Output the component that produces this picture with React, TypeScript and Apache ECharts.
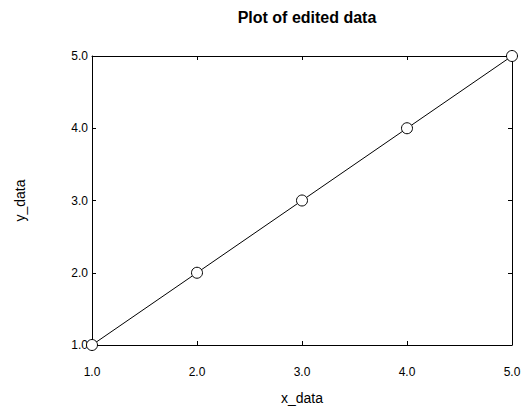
import React, { useEffect, useRef } from "react";
import * as echarts from "echarts";

const xValues = [1.0, 2.0, 3.0, 4.0, 5.0];
const yValues = [1.0, 2.0, 3.0, 4.0, 5.0];
const titleText = "Plot of edited data";
const xName = "x_data";
const yName = "y_data";

export default function App() {
  const ref = useRef<HTMLDivElement>(null);
  useEffect(() => {
    if (!ref.current) return;
    const chart = echarts.init(ref.current, null, { renderer: "svg" });
    const font = "Liberation Sans, Arial, sans-serif";
    const lineStyle = { color: "#000", width: 1 };
    chart.setOption({
      animation: false,
      backgroundColor: "#fff",
      title: {
        text: titleText,
        left: 302,
        top: 4,
        textAlign: "center",
        textStyle: { fontFamily: font, fontSize: 16, fontWeight: "bold", color: "#000" },
      },
      grid: { left: 92, right: 10, top: 56, bottom: 61, containLabel: false, outerBoundsMode: "none" },
      xAxis: [
        {
          type: "value",
          position: "bottom",
          min: 1,
          max: 5,
          interval: 1,
          name: xName,
          nameLocation: "middle",
          nameGap: 46,
          nameTextStyle: { fontFamily: font, fontSize: 14, color: "#000" },
          axisLine: { show: true, lineStyle },
          axisTick: { show: true, inside: true, length: 4, lineStyle },
          axisLabel: {
            fontFamily: font,
            fontSize: 12,
            color: "#000",
            margin: 21,
            formatter: (v: number) => v.toFixed(1),
          },
          splitLine: { show: false },
        },
        {
          type: "value",
          position: "top",
          min: 1,
          max: 5,
          interval: 1,
          axisLine: { show: true, lineStyle },
          axisTick: { show: true, inside: true, length: 4, lineStyle },
          axisLabel: { show: false },
          splitLine: { show: false },
        },
      ],
      yAxis: [
        {
          type: "value",
          position: "left",
          min: 1,
          max: 5,
          interval: 1,
          name: yName,
          nameLocation: "middle",
          nameGap: 65,
          nameTextStyle: { fontFamily: font, fontSize: 14, color: "#000" },
          axisLine: { show: true, lineStyle },
          axisTick: { show: true, inside: true, length: 4, lineStyle },
          axisLabel: {
            fontFamily: font,
            fontSize: 12,
            color: "#000",
            margin: 4,
            formatter: (v: number) => v.toFixed(1),
          },
          splitLine: { show: false },
        },
        {
          type: "value",
          position: "right",
          min: 1,
          max: 5,
          interval: 1,
          axisLine: { show: true, lineStyle },
          axisTick: { show: true, inside: true, length: 4, lineStyle },
          axisLabel: { show: false },
          splitLine: { show: false },
        },
      ],
      series: [
        {
          type: "line",
          xAxisIndex: 0,
          yAxisIndex: 0,
          data: xValues.map((x, i) => [x, yValues[i]]),
          symbol: "circle",
          symbolSize: 11,
          lineStyle: { color: "#000", width: 1 },
          itemStyle: { color: "#fff", borderColor: "#000", borderWidth: 1 },
          clip: false,
        },
      ],
    });
    return () => chart.dispose();
  }, []);
  return <div ref={ref} style={{ width: 522, height: 406, position: "absolute", left: 0, top: 0 }} />;
}
